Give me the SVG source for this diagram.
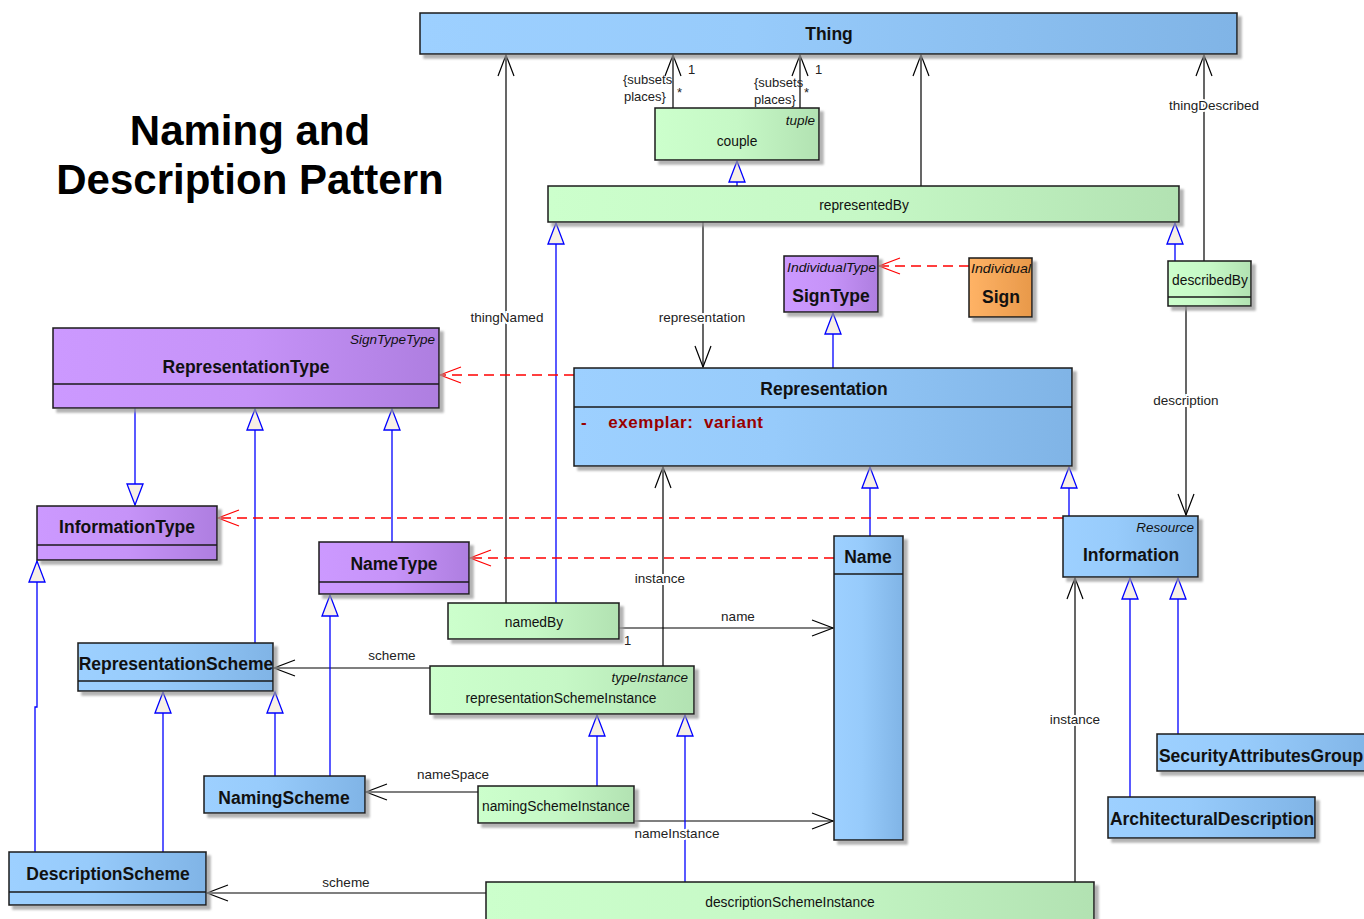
<svg xmlns="http://www.w3.org/2000/svg" width="1364" height="919" viewBox="0 0 1364 919">
  <defs>
    <linearGradient id="gBlue" x1="0" y1="0" x2="1" y2="0">
      <stop offset="0" stop-color="#9dd0ff"/>
      <stop offset="0.4" stop-color="#97cbfb"/>
      <stop offset="1" stop-color="#80b4e6"/>
    </linearGradient>
    <linearGradient id="gGreen" x1="0" y1="0" x2="1" y2="0">
      <stop offset="0" stop-color="#ccffcc"/>
      <stop offset="0.5" stop-color="#c6f8c6"/>
      <stop offset="1" stop-color="#b2e2b2"/>
    </linearGradient>
    <linearGradient id="gPurple" x1="0" y1="0" x2="1" y2="0">
      <stop offset="0" stop-color="#cc99ff"/>
      <stop offset="0.5" stop-color="#c693f8"/>
      <stop offset="1" stop-color="#ae7ee0"/>
    </linearGradient>
    <linearGradient id="gOrange" x1="0" y1="0" x2="1" y2="0">
      <stop offset="0" stop-color="#ffb366"/>
      <stop offset="1" stop-color="#e8994a"/>
    </linearGradient>
    <filter id="shadow" x="-5%" y="-5%" width="115%" height="130%">
      <feDropShadow dx="4" dy="4" stdDeviation="1" flood-color="#9a9a9a" flood-opacity="0.75"/>
    </filter>
    <marker id="open" markerUnits="userSpaceOnUse" markerWidth="24" markerHeight="20" refX="0" refY="0" viewBox="-22 -10 24 20" orient="auto" overflow="visible">
      <path d="M -21 -8 L 0 0 L -21 8" fill="none" stroke="#000" stroke-width="1.2"/>
    </marker>
    <marker id="openRed" markerUnits="userSpaceOnUse" markerWidth="24" markerHeight="20" refX="0" refY="0" viewBox="-22 -10 24 20" orient="auto" overflow="visible">
      <path d="M -21 -8 L 0 0 L -21 8" fill="none" stroke="#ff0000" stroke-width="1.2"/>
    </marker>
    <marker id="gen" markerUnits="userSpaceOnUse" markerWidth="24" markerHeight="20" refX="0" refY="0" viewBox="-22 -10 24 20" orient="auto" overflow="visible">
      <path d="M -21 -8 L 0 0 L -21 8 Z" fill="#f7f0e6" stroke="#0000ff" stroke-width="1.3"/>
    </marker>
  </defs>
  <style>
    .cls { stroke: #1a1a1a; stroke-width: 1.5; filter: url(#shadow); }
    .blue { fill: url(#gBlue); }
    .green { fill: url(#gGreen); }
    .purple { fill: url(#gPurple); }
    .orange { fill: url(#gOrange); }
    .sep { stroke: #1a1a1a; stroke-width: 1.5; }
    .name { font-family: "Liberation Sans", Arial, sans-serif; font-weight: bold; font-size: 17.5px; fill: #111; text-anchor: middle; }
    .aname { font-family: "Liberation Sans", Arial, sans-serif; font-size: 13.8px; fill: #111; text-anchor: middle; }
    .stereo { font-family: "Liberation Sans", Arial, sans-serif; font-style: italic; font-size: 13.5px; fill: #111; text-anchor: end; }
    .lbl { font-family: "Liberation Sans", Arial, sans-serif; font-size: 13.5px; fill: #222; text-anchor: middle; paint-order: stroke; stroke: #fff; stroke-width: 4px; }
    .lblp { font-family: "Liberation Sans", Arial, sans-serif; font-size: 13px; fill: #222; }
    .assoc { stroke: #000; stroke-width: 1.2; fill: none; marker-end: url(#open); }
    .gl { stroke: #0000ff; stroke-width: 1.3; fill: none; marker-end: url(#gen); }
    .dep { stroke: #ff0000; stroke-width: 1.3; fill: none; stroke-dasharray: 10 6; marker-end: url(#openRed); }
    .title { font-family: "Liberation Sans", Arial, sans-serif; font-weight: bold; font-size: 42px; fill: #000; text-anchor: middle; }
  </style>

  <!-- heading -->
  <text class="title" x="250" y="145">Naming and</text>
  <text class="title" x="250" y="194">Description Pattern</text>

  <!-- connectors -->
  <g id="connectors">
    <!-- couple places -> Thing -->
    <line class="assoc" x1="673" y1="108" x2="673" y2="55"/>
    <line class="assoc" x1="800" y1="108" x2="800" y2="55"/>
    <!-- representedBy -> Thing -->
    <line class="assoc" x1="921" y1="186" x2="921" y2="55"/>
    <!-- thingNamed -->
    <line class="assoc" x1="506" y1="603" x2="506" y2="55"/>
    <!-- thingDescribed -->
    <line class="assoc" x1="1204" y1="261" x2="1204" y2="55"/>
    <!-- representation -->
    <line class="assoc" x1="703" y1="222" x2="703" y2="367"/>
    <!-- description -->
    <line class="assoc" x1="1186" y1="306" x2="1186" y2="515"/>
    <!-- name -->
    <line class="assoc" x1="619" y1="628" x2="833" y2="628"/>
    <!-- instance of Representation -->
    <line class="assoc" x1="663" y1="667" x2="663" y2="467"/>
    <!-- scheme -->
    <line class="assoc" x1="430" y1="668" x2="274" y2="668"/>
    <!-- nameSpace -->
    <line class="assoc" x1="478" y1="792" x2="366" y2="792"/>
    <!-- nameInstance -->
    <line class="assoc" x1="634" y1="821" x2="833" y2="821"/>
    <!-- scheme of description -->
    <line class="assoc" x1="486" y1="893" x2="207" y2="893"/>
    <!-- instance of Information -->
    <line class="assoc" x1="1075" y1="882" x2="1075" y2="578"/>

    <!-- generalizations -->
    <line class="gl" x1="737" y1="186" x2="737" y2="161"/>
    <line class="gl" x1="556" y1="603" x2="556" y2="223"/>
    <line class="gl" x1="1175" y1="261" x2="1175" y2="223"/>
    <line class="gl" x1="833" y1="368" x2="833" y2="313"/>
    <line class="gl" x1="135" y1="408" x2="135" y2="505"/>
    <line class="gl" x1="392" y1="542" x2="392" y2="409"/>
    <line class="gl" x1="255" y1="643" x2="255" y2="409"/>
    <line class="gl" x1="870" y1="536" x2="870" y2="467"/>
    <line class="gl" x1="1069" y1="516" x2="1069" y2="467"/>
    <polyline class="gl" points="35,852 35,707 37,707 37,561"/>
    <line class="gl" x1="163" y1="852" x2="163" y2="692"/>
    <line class="gl" x1="275" y1="776" x2="275" y2="692"/>
    <line class="gl" x1="330" y1="776" x2="330" y2="595"/>
    <line class="gl" x1="597" y1="786" x2="597" y2="715"/>
    <line class="gl" x1="685" y1="882" x2="685" y2="715"/>
    <line class="gl" x1="1130" y1="797" x2="1130" y2="578"/>
    <line class="gl" x1="1178" y1="734" x2="1178" y2="578"/>

    <!-- dependencies -->
    <line class="dep" x1="969" y1="266" x2="879" y2="266"/>
    <line class="dep" x1="574" y1="375" x2="440" y2="375"/>
    <line class="dep" x1="1063" y1="518" x2="218" y2="518"/>
    <line class="dep" x1="834" y1="558" x2="470" y2="558"/>

    <!-- role labels -->
    <text class="lblp" x="623" y="84">{subsets</text>
    <text class="lblp" x="624" y="101">places}</text>
    <text class="lblp" x="688" y="74">1</text>
    <text class="lblp" x="677" y="97">*</text>
    <text class="lblp" x="754" y="87">{subsets</text>
    <text class="lblp" x="754" y="104">places}</text>
    <text class="lblp" x="815" y="74">1</text>
    <text class="lblp" x="804" y="97">*</text>
    <text class="lbl" x="1214" y="110">thingDescribed</text>
    <text class="lbl" x="507" y="322">thingNamed</text>
    <text class="lbl" x="702" y="322">representation</text>
    <text class="lbl" x="1186" y="405">description</text>
    <text class="lbl" x="660" y="583">instance</text>
    <text class="lbl" x="738" y="621">name</text>
    <text class="lblp" x="624" y="645">1</text>
    <text class="lbl" x="392" y="660">scheme</text>
    <text class="lbl" x="453" y="779">nameSpace</text>
    <text class="lbl" x="677" y="838">nameInstance</text>
    <text class="lbl" x="346" y="887">scheme</text>
    <text class="lbl" x="1075" y="724">instance</text>
  </g>

  <!-- classes -->
  <g id="Thing">
    <rect class="cls blue" x="420" y="13" width="817" height="41"/>
    <text class="name" x="829" y="40">Thing</text>
  </g>
  <g id="couple">
    <rect class="cls green" x="655" y="108" width="164" height="52"/>
    <text class="stereo" x="815" y="125">tuple</text>
    <text class="aname" x="737" y="146">couple</text>
  </g>
  <g id="representedBy">
    <rect class="cls green" x="548" y="186" width="631" height="36"/>
    <text class="aname" x="864" y="210">representedBy</text>
  </g>
  <g id="describedBy">
    <rect class="cls green" x="1168" y="261" width="83" height="45"/>
    <line class="sep" x1="1168" y1="297" x2="1251" y2="297"/>
    <text class="aname" x="1210" y="285">describedBy</text>
  </g>
  <g id="SignType">
    <rect class="cls purple" x="784" y="256" width="94" height="56"/>
    <text class="stereo" x="876" y="272" textLength="89" lengthAdjust="spacingAndGlyphs">IndividualType</text>
    <text class="name" x="831" y="302">SignType</text>
  </g>
  <g id="Sign">
    <rect class="cls orange" x="969" y="258" width="63" height="59"/>
    <text class="stereo" x="1031" y="273" textLength="60" lengthAdjust="spacingAndGlyphs">Individual</text>
    <text class="name" x="1001" y="303">Sign</text>
  </g>
  <g id="RepresentationType">
    <rect class="cls purple" x="53" y="328" width="386" height="80"/>
    <line class="sep" x1="53" y1="384" x2="439" y2="384"/>
    <text class="stereo" x="435" y="344">SignTypeType</text>
    <text class="name" x="246" y="373">RepresentationType</text>
  </g>
  <g id="Representation">
    <rect class="cls blue" x="574" y="368" width="498" height="98"/>
    <line class="sep" x1="574" y1="407" x2="1072" y2="407"/>
    <text class="name" x="824" y="395">Representation</text>
    <text x="581" y="428" textLength="182" lengthAdjust="spacing" style="font-family:'Liberation Sans', Arial, sans-serif; font-weight:bold; font-size:17px; fill:#990000; white-space:pre" xml:space="preserve">-    exemplar:  variant</text>
  </g>
  <g id="InformationType">
    <rect class="cls purple" x="37" y="506" width="180" height="54"/>
    <line class="sep" x1="37" y1="545" x2="217" y2="545"/>
    <text class="name" x="127" y="533">InformationType</text>
  </g>
  <g id="NameType">
    <rect class="cls purple" x="319" y="542" width="150" height="52"/>
    <line class="sep" x1="319" y1="582" x2="469" y2="582"/>
    <text class="name" x="394" y="570">NameType</text>
  </g>
  <g id="Information">
    <rect class="cls blue" x="1063" y="516" width="135" height="61"/>
    <text class="stereo" x="1194" y="532">Resource</text>
    <text class="name" x="1131" y="561">Information</text>
  </g>
  <g id="Name">
    <rect class="cls blue" x="834" y="536" width="69" height="304"/>
    <line class="sep" x1="834" y1="574" x2="903" y2="574"/>
    <text class="name" x="868" y="563">Name</text>
  </g>
  <g id="namedBy">
    <rect class="cls green" x="448" y="603" width="171" height="36"/>
    <text class="aname" x="534" y="627">namedBy</text>
  </g>
  <g id="representationSchemeInstance">
    <rect class="cls green" x="430" y="666" width="264" height="48"/>
    <text class="stereo" x="688" y="682">typeInstance</text>
    <text class="aname" x="561" y="703">representationSchemeInstance</text>
  </g>
  <g id="RepresentationScheme">
    <rect class="cls blue" x="78" y="643" width="195" height="48"/>
    <line class="sep" x1="78" y1="681" x2="273" y2="681"/>
    <text class="name" x="176" y="670">RepresentationScheme</text>
  </g>
  <g id="NamingScheme">
    <rect class="cls blue" x="204" y="776" width="161" height="37"/>
    <text class="name" x="284" y="804">NamingScheme</text>
  </g>
  <g id="namingSchemeInstance">
    <rect class="cls green" x="478" y="786" width="156" height="37"/>
    <text class="aname" x="556" y="811">namingSchemeInstance</text>
  </g>
  <g id="DescriptionScheme">
    <rect class="cls blue" x="9" y="852" width="197" height="53"/>
    <line class="sep" x1="9" y1="892" x2="206" y2="892"/>
    <text class="name" x="108" y="880">DescriptionScheme</text>
  </g>
  <g id="descriptionSchemeInstance">
    <rect class="cls green" x="486" y="882" width="608" height="50"/>
    <text class="aname" x="790" y="907">descriptionSchemeInstance</text>
  </g>
  <g id="SecurityAttributesGroup">
    <rect class="cls blue" x="1157" y="734" width="220" height="37"/>
    <text class="name" x="1261" y="762">SecurityAttributesGroup</text>
  </g>
  <g id="ArchitecturalDescription">
    <rect class="cls blue" x="1108" y="797" width="207" height="41"/>
    <text class="name" x="1212" y="825">ArchitecturalDescription</text>
  </g>
</svg>
